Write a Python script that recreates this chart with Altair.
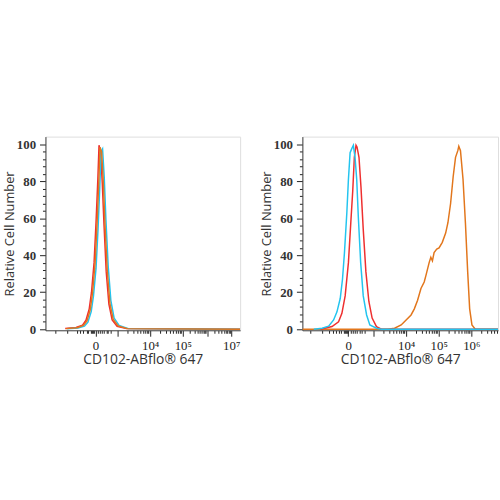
import altair as alt
import pandas as pd
import math

# ---------- data (x in display-channel units along the biexponential axis) ----------
# Left panel
L_red_x = [20, 31, 37.5, 41, 44.3, 46.6, 49.2, 51.2, 53, 54.2, 55.8, 57.5, 59.3, 61.5, 64.2, 67.5, 72.5, 82, 197]
L_red_y = [0.4, 0.9, 2.2, 4.8, 11, 20, 36, 58, 81, 99.5, 96, 79, 56, 31, 13.5, 5, 1.6, 0.3, 0]
L_cyan_x = [22, 33, 39.5, 43, 46.3, 48.6, 51.2, 53.2, 55, 56.3, 57.8, 59.5, 61.2, 63.5, 66.2, 69.5, 74.5, 84, 197]
L_cyan_y = [0.2, 0.6, 1.6, 3.8, 9.5, 18, 33, 54, 77, 96, 97.5, 82, 59, 34, 15.5, 6, 2, 0.3, 0]
L_orange_x = [21, 32, 38.5, 42, 45.3, 47.6, 50.2, 52.2, 54, 55.2, 56.8, 58.5, 60.2, 62.5, 65.2, 68.5, 73.5, 83, 197]
L_orange_y = [0.3, 0.8, 2, 4.5, 10.5, 19.5, 35.5, 57, 80, 98.5, 96, 80, 57, 32, 14, 5.4, 1.8, 0.3, 0]

# Right panel
R_cyan_x = [11.6, 20, 26.6, 31.6, 35, 38.3, 40.6, 42.6, 45, 46.6, 48.3, 50, 51.6, 53.3, 55, 56.6, 59, 61.6, 65, 68.3, 75, 80, 198]
R_cyan_y = [0, 0.5, 1.6, 5, 9.4, 16.6, 27, 41.5, 63, 81, 95.5, 97.7, 99.5, 93, 81, 61, 36, 18, 7.7, 2.3, 0.5, 0, 0]
R_red_x = [18.3, 30, 36.6, 40, 43.3, 46.6, 49, 51, 52.6, 54.3, 55.3, 57.3, 59.3, 61.6, 64.3, 67.3, 70.6, 75, 80, 198]
R_red_y = [0, 1.4, 4, 8.6, 18, 36, 57.6, 75, 93, 99.5, 98.6, 93, 77, 54, 31, 15, 6, 1.4, 0, 0]
R_orange_x = [0, 86.6, 93.3, 100, 105, 110, 113.3, 116.6, 120, 123.3, 125, 128.3, 130, 131.6, 133.3, 136, 138.3,
              141.6, 145, 147.3, 150, 152.6, 155, 157.3, 158.3, 160, 162.6, 165, 167.3, 169.3, 171.6, 175, 198]
R_orange_y = [0, 0, 0.5, 2.3, 5, 7.7, 11, 15.7, 22, 25.5, 29, 36, 38.9, 37, 41.5, 43.3, 44, 47, 52, 57.6, 68,
              82.5, 93, 96.6, 99, 96.6, 81, 57.6, 31, 11, 2.3, 0, 0]

# Axis tick positions / labels
L_major_pos = [50.7, 106, 139, 188]
L_major_lab = ["0", "10\u2074", "10\u2075", "10\u2077"]
L_decades = [73, 106, 139, 163.5, 188]
L_linear = [10, 21.7, 31.7, 35, 38.3, 41.7, 43.3, 46, 47, 48, 49, 53.3, 55, 57, 59, 61.7, 63.3, 66]

R_major_pos = [46.3, 105, 138, 171]
R_major_lab = ["0", "10\u2074", "10\u2075", "10\u2076"]
R_decades = [72, 105, 138, 171, 204]
R_linear = [8, 20, 27, 31, 34, 37, 39, 41.5, 42.5, 43.5, 44.5, 45.5, 49, 51, 53, 55, 58, 60, 63]

COLORS = {"red": "#ee2f2f", "cyan": "#23c4ef", "orange": "#e2761c"}

FONT_SERIF = "Liberation Serif"
FONT_SANS = "Open Sans"


def minor_from_decades(decades, xmax):
    out = []
    for a, b in zip(decades[:-1], decades[1:]):
        for m in range(2, 10):
            p = a + (b - a) * math.log10(m)
            if p <= xmax:
                out.append(round(p, 2))
    return out


def panel(curves, order, xmax, major_pos, major_lab, decades, linear):
    frames = []
    for name in order:
        xs, ys = curves[name]
        frames.append(pd.DataFrame({"x": xs, "y": ys, "series": name}))
    minor = minor_from_decades(decades, xmax) + linear + [d for d in decades if d <= xmax]
    ticks = sorted(set([round(v, 2) for v in minor + major_pos]))
    expr = "''"
    for p, l in reversed(list(zip(major_pos, major_lab))):
        expr = f"datum.value == {p} ? '{l}' : ({expr})"
    big = "[" + ",".join(str(p) for p in major_pos + [d for d in decades if d <= xmax]) + "]"
    x_axis = alt.Axis(
        values=ticks, labelExpr=expr, title="CD102-ABflo\u00ae 647",
        tickSize={"condition": {"test": f"indexof({big}, datum.value) >= 0", "value": 6}, "value": 3},
        labelFont=FONT_SERIF, labelFontSize=13, labelColor="#222", labelPadding=3,
        titleFont=FONT_SANS, titleFontSize=14, titleFontWeight="normal", titleColor="#333",
        titlePadding=1, grid=False, domainColor="#444", tickColor="#222", labelFlush=False,
        labelOverlap=False,
    )
    y_axis = alt.Axis(
        values=list(range(0, 101, 4)), labelExpr="datum.value % 20 == 0 ? datum.label : ''",
        title="Relative Cell Number",
        tickSize={"condition": {"test": "datum.value % 20 == 0", "value": 6}, "value": 3},
        labelFont=FONT_SERIF, labelFontSize=13, labelFontWeight="bold", labelColor="#333",
        labelPadding=4, titleFont=FONT_SANS, titleFontSize=13, titleFontWeight="normal",
        titleColor="#333", titlePadding=0, grid=False, domainColor="#444", tickColor="#222",
        labelOverlap=False,
    )
    layers = []
    for df in frames:
        name = df["series"].iloc[0]
        layers.append(
            alt.Chart(df).mark_line(strokeWidth=1.5, color=COLORS[name], clip=True).encode(
                x=alt.X("x:Q", scale=alt.Scale(domain=[0, xmax], nice=False, zero=False), axis=x_axis),
                y=alt.Y("y:Q", scale=alt.Scale(domain=[-0.6, 104.2], nice=False, zero=False), axis=y_axis),
                order=alt.Order("x:Q"),
            )
        )
    return alt.layer(*layers).properties(width=197 if xmax < 198 else 198, height=196)


left = panel(
    {"red": (L_red_x, L_red_y), "cyan": (L_cyan_x, L_cyan_y), "orange": (L_orange_x, L_orange_y)},
    ["red", "cyan", "orange"], 197, L_major_pos, L_major_lab, L_decades, L_linear,
)
right = panel(
    {"red": (R_red_x, R_red_y), "cyan": (R_cyan_x, R_cyan_y), "orange": (R_orange_x, R_orange_y)},
    ["orange", "red", "cyan"], 198, R_major_pos, R_major_lab, R_decades, R_linear,
)

chart = alt.hconcat(left, right, spacing=19).properties(
    padding={"left": 3, "top": 135, "right": 1, "bottom": 5}
).configure_view(stroke="#9a9a9a", strokeWidth=1).configure(background="white")

chart.save("out.html", embed_options={"renderer": "svg", "actions": False})
